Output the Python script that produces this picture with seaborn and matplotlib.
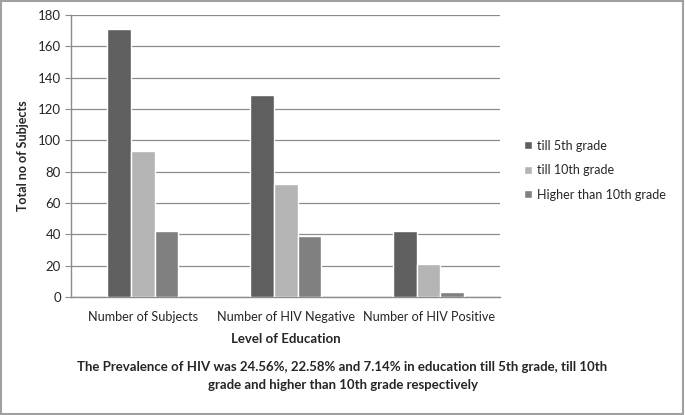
import matplotlib
matplotlib.use('Agg')
import matplotlib.pyplot as plt
import seaborn as sns
import pandas as pd
from matplotlib.patches import Rectangle

# values
categories = ['Number of Subjects', 'Number of HIV Negative', 'Number of HIV Positive']
groups = ['till 5th grade', 'till 10th grade', 'Higher than 10th grade']
till_5th = [171, 129, 42]
till_10th = [93, 72, 21]
higher_10th = [42, 39, 3]

df = pd.DataFrame({
    'category': categories * 3,
    'group': [groups[0]] * 3 + [groups[1]] * 3 + [groups[2]] * 3,
    'value': till_5th + till_10th + higher_10th,
})

sns.set_style('white')
plt.rcParams['font.family'] = ['Lato', 'DejaVu Sans']

fig = plt.figure(figsize=(6.85, 4.15), dpi=100)
ax = fig.add_axes([0.104, 0.284, 0.626, 0.680])

palette = ['#5f5f5f', '#b4b4b4', '#808080']
sns.barplot(data=df, x='category', y='value', hue='group', palette=palette,
            width=0.5, saturation=1, ax=ax, zorder=3)

ax.set_ylim(0, 180)
ax.set_yticks(range(0, 181, 20))
ax.yaxis.grid(True, color='#8c8c8c', linewidth=0.9, zorder=0)
ax.tick_params(axis='y', labelsize=9.5, length=4, color='#8c8c8c', direction='out', left=True)
ax.tick_params(axis='x', labelsize=9.1, length=0, pad=10)
for s in ['top', 'right']:
    ax.spines[s].set_visible(False)
for s in ['left', 'bottom']:
    ax.spines[s].set_color('#8c8c8c')
    ax.spines[s].set_linewidth(1)

ax.set_xlabel('Level of Education', fontsize=9.5, fontweight='bold', labelpad=7)
ax.set_ylabel('Total no of Subjects', fontsize=9, fontweight='bold', labelpad=6)

ax.legend(loc='center left', bbox_to_anchor=(1.03, 0.45), frameon=False,
          fontsize=9, handlelength=0.6, handleheight=0.6, handletextpad=0.4,
          labelspacing=1.0)

fig.text(0.5, 0.094,
         'The Prevalence of HIV was 24.56%, 22.58% and 7.14% in education till 5th grade, till 10th\n'
         'grade and higher than 10th grade respectively',
         ha='center', va='center', fontsize=9.5, fontweight='bold', linespacing=1.6)

fig.patches.append(Rectangle((0.002, 0.003), 0.995, 0.994, transform=fig.transFigure,
                             fill=False, edgecolor='#a0a0a0', linewidth=1.5))

fig.savefig('out.png', dpi=100)
